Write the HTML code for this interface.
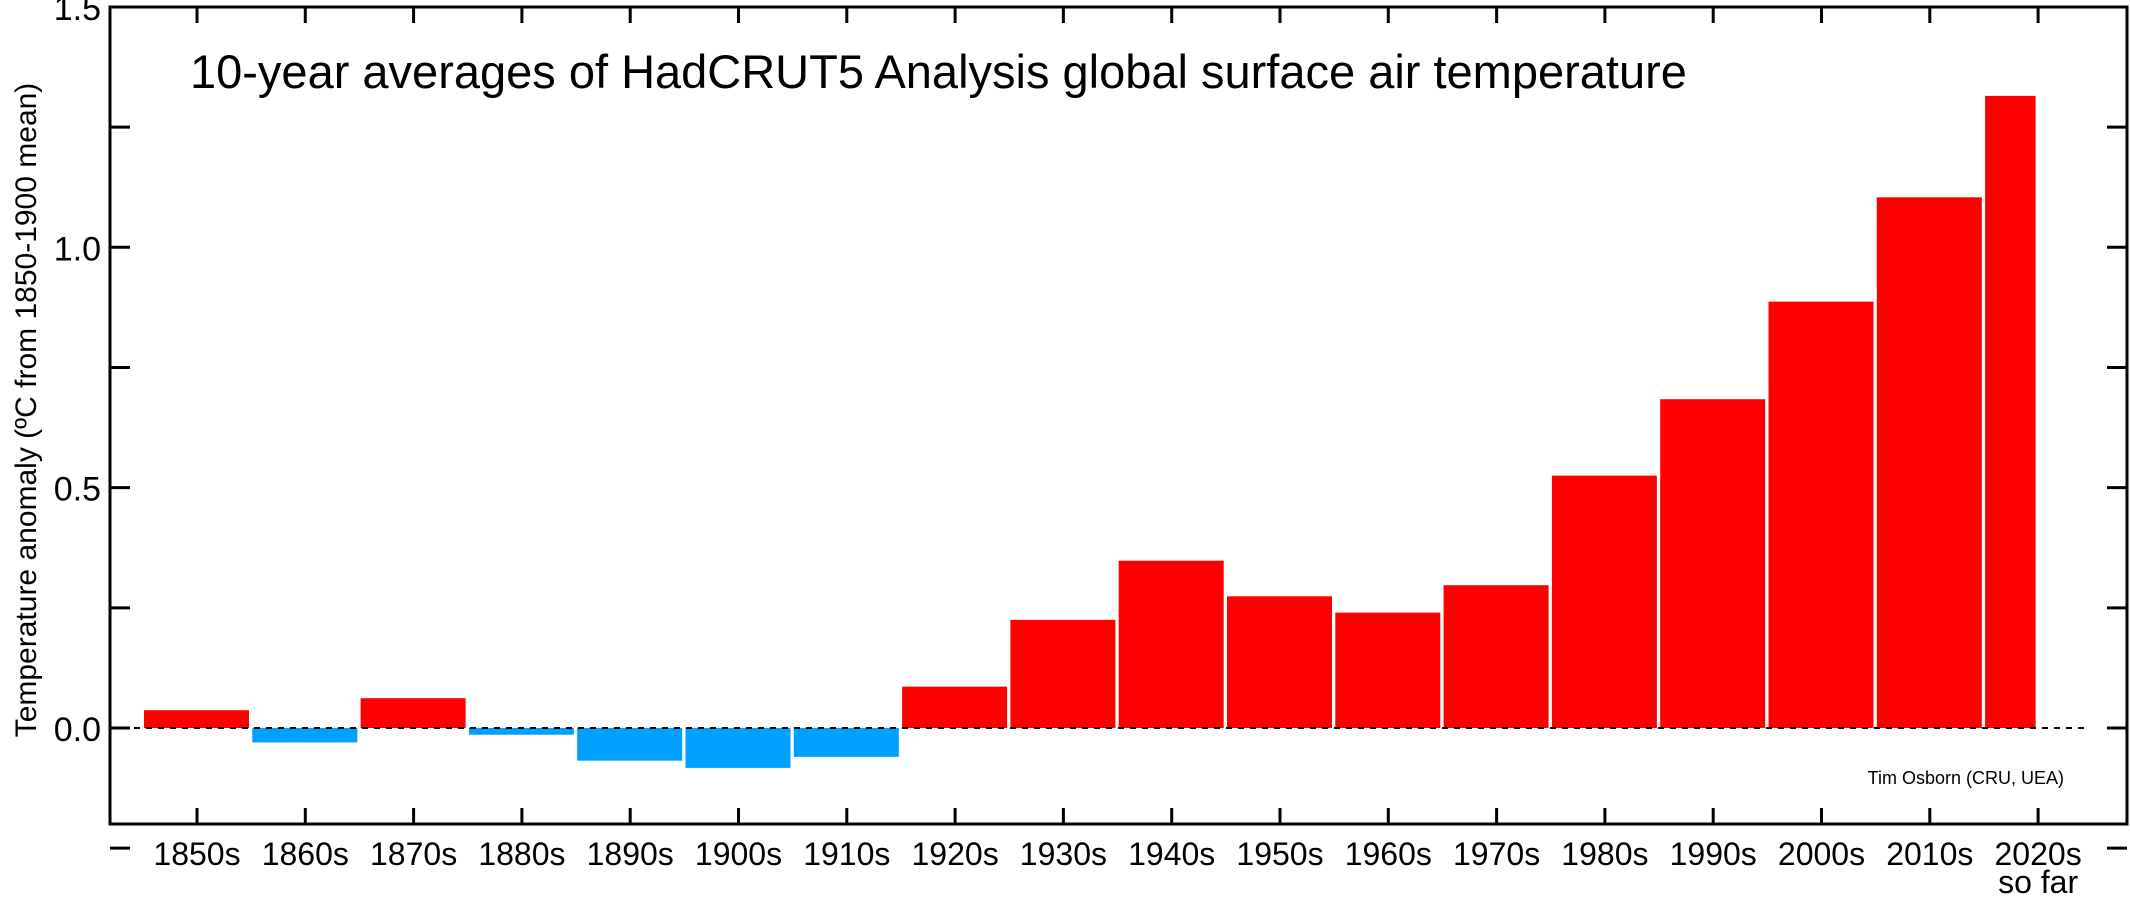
<!DOCTYPE html>
<html><head><meta charset="utf-8"><style>
body{margin:0;background:#fff;}
svg{display:block;font-family:"Liberation Sans",Arial,sans-serif;}
</style></head><body>
<svg id="chart" width="2130" height="897" viewBox="0 0 2130 897">
<text x="190" y="88" font-size="47">10-year averages of HadCRUT5 Analysis global surface air temperature</text>
<text transform="translate(36,410) rotate(-90)" text-anchor="middle" font-size="30">Temperature anomaly (ºC from 1850-1900 mean)</text>
<text x="2064" y="784" text-anchor="end" font-size="18">Tim Osborn (CRU, UEA)</text>
<g id="bars"></g>
<g id="axes"></g>
</svg>
<script>
const categories = ["1850s","1860s","1870s","1880s","1890s","1900s","1910s","1920s","1930s","1940s","1950s","1960s","1970s","1980s","1990s","2000s","2010s","2020s"];
const values = [0.037,-0.030,0.062,-0.014,-0.068,-0.083,-0.060,0.086,0.225,0.348,0.274,0.240,0.297,0.525,0.684,0.887,1.104,1.315];
const decadeFraction = [1,1,1,1,1,1,1,1,1,1,1,1,1,1,1,1,1,0.5];
const yTicks = [-0.25,0,0.25,0.5,0.75,1.0,1.25,1.5];
const yTickLabels = ["","0.0","","0.5","","1.0","","1.5"];
const NS="http://www.w3.org/2000/svg";
const L=110,R=2127,T=7,B=824,Y0=728,PER=480.7;
function y(v){return Y0-v*PER;}
function xc(i){return 197+i*108.3;}
const bars=document.getElementById('bars'), axes=document.getElementById('axes');
function mk(tag,attrs,parent){const e=document.createElementNS(NS,tag);for(const k in attrs)e.setAttribute(k,attrs[k]);parent.appendChild(e);return e;}
// zero line dashed
const zl=mk('line',{x1:L,x2:2085,y1:Y0,y2:Y0,stroke:'#000','stroke-width':2,'stroke-dasharray':'6,6'},axes);


categories.forEach((c,i)=>{
  const v=values[i];
  const x0=xc(i)-53, w=105*decadeFraction[i]-(decadeFraction[i]<1?2:0);
  const r=mk('rect',{x:x0,y:Math.min(y(v),Y0),width:w,height:Math.abs(y(v)-Y0),fill:v>=0?'#ff0000':'#00a0ff'},bars);
  
  
  const tb=mk('line',{x1:xc(i),x2:xc(i),y1:B,y2:B-16,stroke:'#000','stroke-width':3},axes);
  
  
  const tt=mk('line',{x1:xc(i),x2:xc(i),y1:T,y2:T+16,stroke:'#000','stroke-width':3},axes);
  
  
  const lb=mk('text',{x:xc(i),y:865,'text-anchor':'middle','font-size':32},axes);
  lb.textContent=c;
  
  
});
const sf=mk('text',{x:xc(17),y:893,'text-anchor':'middle','font-size':32},axes);
sf.textContent='so far';


yTicks.forEach((v,i)=>{
  const a=mk('line',{x1:L,x2:L+20,y1:y(v),y2:y(v),stroke:'#000','stroke-width':3},axes);
  
  
  const b=mk('line',{x1:R-20,x2:R,y1:y(v),y2:y(v),stroke:'#000','stroke-width':3},axes);
  
  
  if(yTickLabels[i]){
    const t=mk('text',{x:101,y:y(v)+13,'text-anchor':'end','font-size':34},axes);
    t.textContent=yTickLabels[i];
    
    
  }
});
const fr=mk('rect',{x:L,y:T,width:R-L,height:B-T,fill:'none',stroke:'#000','stroke-width':3},axes);


</script>
</body></html>
